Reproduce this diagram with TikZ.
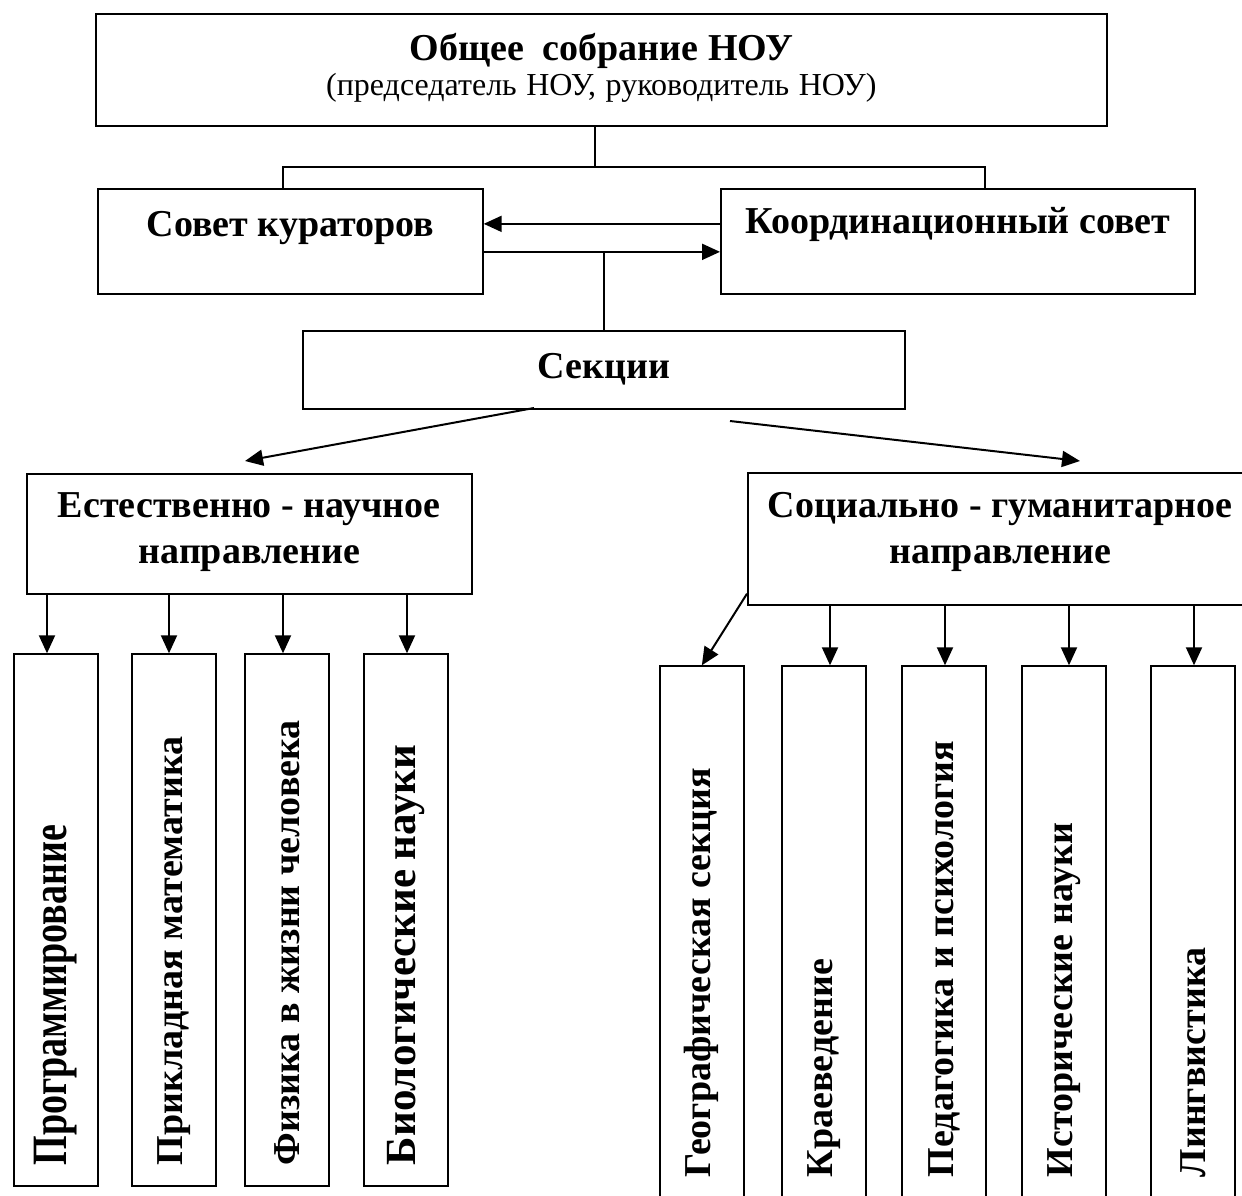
\documentclass[tikz,border=0pt]{standalone}
\usepackage{fontspec}
\setmainfont{Liberation Serif}
\usetikzlibrary{arrows.meta}
\tikzset{
  box/.style={draw, line width=1.7pt, inner sep=0pt, anchor=north west, align=center,
    font=\fontsize{38}{46}\selectfont\bfseries,
    execute at begin node={\spaceskip=.25em\xspaceskip=.25em\relax}},
  vbox/.style={box, rotate=90, align=left, minimum height=84pt},
  link/.style={line width=1.3pt},
  arr/.style={line width=2pt, -{Triangle[length=18pt,width=16pt]}}
}
\begin{document}
\begin{tikzpicture}[x=1pt,y=-1pt]
\useasboundingbox (0,0) rectangle (1242,1196);
\clip (0,0) rectangle (1242,1196);
% upper boxes
\node[box, text width=1011pt, text height=47pt, text depth=65pt] (obshee) at (95,13)
  {Общее\ \ собрание НОУ\\[-11pt]{\mdseries\fontsize{32}{34}\selectfont(председатель НОУ, руководитель НОУ)}};
\node[box, text width=385pt, text height=48pt, text depth=57pt] (sovet) at (97,188) {Совет кураторов};
\node[box, text width=474pt, text height=45pt, text depth=60pt] (koord) at (720,188) {Координационный совет};
\node[box, text width=602pt, text height=48pt, text depth=30pt] (sekcii) at (302,330) {Секции};
\node[box, text width=445pt, text height=44pt, text depth=76pt] (estnauch) at (26,473)
  {Естественно - научное\\направление};
\node[box, text width=505pt, text height=45pt, text depth=87pt] (socgum) at (747,472)
  {Социально - гуманитарное\\направление};
% sections
\foreach \nm/\x/\txt in {prog/13/\scalebox{1}[1.3]{Программирование}, prikl/131/Прикладная математика,
    fiz/244/Физика в жизни человека, bio/363/{\fontsize{43}{46}\selectfont Биологические науки}}
  \node[vbox, text width=490pt, inner xsep=21pt] (\nm) at (\x,1187) {\txt};
\foreach \nm/\x/\txt in {geogr/659/Географическая секция, kraev/781/Краеведение,
    ped/901/Педагогика и психология, ist/1021/Исторические науки, ling/1150/Лингвистика}
  \node[vbox, text width=479pt, inner xsep=32pt] (\nm) at (\x,1210) {\txt};
% tree from the top
\coordinate (split) at (595,167);
\coordinate (sl) at (283,167);
\coordinate (sr) at (985,167);
\draw[link] (split |- obshee.south) -- (split);
\draw[link] (sl |- sovet.north) -- (sl) -- (sr) -- (sr |- koord.north);
\draw[arr] ([yshift=17.5pt]koord.west) -- ([yshift=17.5pt]sovet.east);
\draw[arr] ([yshift=-10.5pt]sovet.east) -- ([yshift=-10.5pt]koord.west);
\coordinate (low) at ([yshift=-10.5pt]sovet.east);
\draw[link] (sekcii.north) -- (sekcii.north |- low);
% two directions
\coordinate (l0) at (534,408);
\coordinate (l1) at (245,461);
\coordinate (r0) at (730,421);
\coordinate (r1) at (1080,461);
\draw[arr] (l0) -- (l1);
\draw[arr] (r0) -- (r1);
% arrows to sections
\foreach \nm/\x in {prog/47, prikl/169, fiz/283, bio/407}{
  \coordinate (a\nm) at (\x,0);
  \draw[arr] (a\nm |- estnauch.south) -- (a\nm |- \nm.east);
}
\foreach \nm/\x in {kraev/830, ped/945, ist/1069, ling/1194}{
  \coordinate (a\nm) at (\x,0);
  \draw[arr] (a\nm |- socgum.south) -- (a\nm |- \nm.east);
}
\draw[arr] ([yshift=12pt]socgum.south west) -- (geogr.east);
\end{tikzpicture}
\end{document}
